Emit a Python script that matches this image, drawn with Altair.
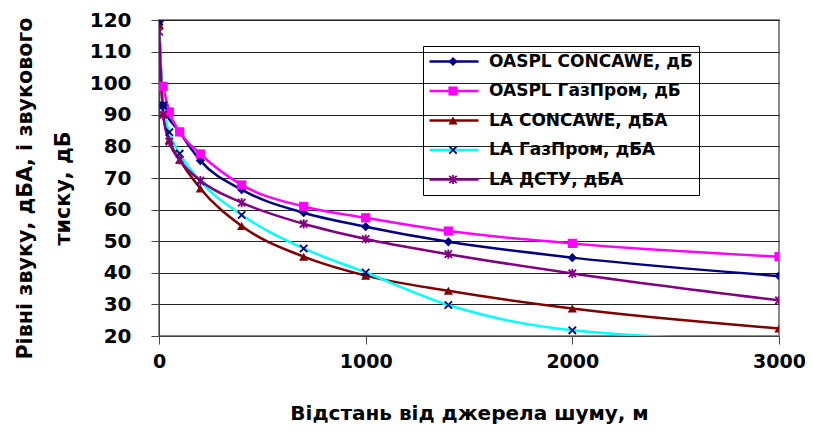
import math
import altair as alt
import pandas as pd

# ---------------- data ----------------
distance = [1, 20, 50, 100, 200, 400, 700, 1000, 1400, 2000, 3000]

series_names = [
    "OASPL CONCAWE, дБ",
    "OASPL ГазПром, дБ",
    "LA CONCAWE, дБА",
    "LA ГазПром, дБА",
    "LA ДСТУ, дБА",
]

oaspl_concawe = [119.5, 93.0, None, 84.5, 75.5, 66.3, 59.0, 54.6, 49.8, 44.8, 39.0]
oaspl_gazprom = [None, 99.0, 90.9, 84.6, 77.6, 67.8, 61.0, 57.4, 53.2, 49.3, 45.1]
la_concawe = [118.5, 90.5, 82.0, 75.8, 66.7, 54.8, 45.1, 39.1, 34.3, 28.7, 22.4]
la_gazprom = [119.5, 93.0, 84.5, 77.7, 69.0, 58.3, 47.7, 40.1, 29.8, 21.8, 18.5]
la_dstu = [116.3, 90.0, 81.5, 75.7, 69.2, 62.2, 55.5, 50.7, 45.9, 39.8, 31.3]

values_by_series = [oaspl_concawe, oaspl_gazprom, la_concawe, la_gazprom, la_dstu]

x_ticks = [0, 1000, 2000, 3000]
y_ticks = [20, 30, 40, 50, 60, 70, 80, 90, 100, 110, 120]

line_colors = ["#000080", "#FF00FF", "#800000", "#00FFFF", "#800080"]
marker_colors = ["#000080", "#FF00FF", "#800000", "#000080", "#800080"]

FONT = "DejaVu Sans"


def x_path(a=0.8, w=0.2, bar=False):
    d = w / math.sqrt(2)
    p1 = [(-a + d, -a - d), (a + d, a - d), (a - d, a + d), (-a - d, -a + d)]
    p2 = [(-a + d, a + d), (a + d, -a + d), (a - d, -a - d), (-a - d, a - d)][::-1]
    polys = [p1, p2]
    if bar:
        polys.append([(-w, -1), (w, -1), (w, 1), (-w, 1)])
    return " ".join(
        "M" + "L".join(f"{x:.3f},{y:.3f}" for x, y in p) + "Z" for p in polys
    )


marker_shapes = ["diamond", "square", "triangle-up", x_path(), x_path(bar=True)]
marker_keys = ["m_" + n for n in series_names]

rows = []
for idx, (name, vals) in enumerate(zip(series_names, values_by_series)):
    for dist, v in zip(distance, vals):
        if v is not None:
            rows.append(
                {"distance": dist, "level": v, "series": name,
                 "series_m": "m_" + name, "k": idx}
            )
df = pd.DataFrame(rows)

x_enc = alt.X(
    "distance:Q",
    scale=alt.Scale(domain=[0, 3000], nice=False),
    axis=alt.Axis(
        values=x_ticks,
        grid=False,
        format="d",
        tickSize=8,
        tickColor="#444444",
        domainColor="#444444",
        labelFont=FONT,
        labelFontSize=19,
        labelFontWeight="bold",
        labelColor="black",
        labelPadding=8,
        labelFlush=False,
        labelOverlap=False,
        title="Відстань від джерела шуму, м",
        titleFont=FONT,
        titleFontSize=20,
        titleFontWeight="bold",
        titleColor="black",
        titleY=77,
        titleBaseline="middle",
    ),
)

y_enc = alt.Y(
    "level:Q",
    scale=alt.Scale(domain=[20, 120], nice=False),
    axis=alt.Axis(
        values=y_ticks,
        grid=True,
        gridColor="#222222",
        gridWidth=1,
        tickSize=8,
        tickColor="#444444",
        domainColor="#444444",
        labelFont=FONT,
        labelFontSize=20,
        labelFontWeight="bold",
        labelColor="black",
        labelPadding=20,
        labelOverlap=False,
        title=["Рівні звуку, дБА, і звукового", "тиску, дБ"],
        titleFont=FONT,
        titleFontSize=20.7,
        titleFontWeight="bold",
        titleColor="black",
        titleAngle=270,
        titleAlign="center",
        titleBaseline="middle",
        titleLineHeight=38,
        titleX=-134,
        titleY=168,
    ),
)

line_legend = alt.Legend(
    title=None,
    orient="none",
    legendX=264,
    legendY=26,
    symbolType="stroke",
    symbolSize=2401,
    symbolStrokeWidth=2.5,
    clipHeight=21,
    rowPadding=8.5,
    padding=5,
    strokeColor="black",
    labelFont=FONT,
    labelFontSize=17,
    labelFontWeight="bold",
    labelColor="black",
    labelOffset=9,
    labelLimit=400,
)

marker_legend = alt.Legend(
    title=None,
    orient="none",
    legendX=284,
    legendY=26,
    symbolSize=85,
    symbolStrokeWidth=0,
    clipHeight=21,
    rowPadding=8.5,
    padding=5,
    labelExpr="''",
)

base = alt.Chart(df).encode(x=x_enc, y=y_enc)

lines = base.mark_line(
    interpolate="monotone", strokeWidth=2.5, clip=True
).encode(
    color=alt.Color(
        "series:N",
        scale=alt.Scale(domain=series_names, range=line_colors),
        legend=line_legend,
    ),
    order="distance:Q",
)

points = base.mark_point(
    filled=True, size=85, opacity=1, clip=True, strokeWidth=0
).encode(
    fill=alt.Fill(
        "series_m:N",
        scale=alt.Scale(domain=marker_keys, range=marker_colors),
        legend=marker_legend,
    ),
    shape=alt.Shape(
        "series_m:N",
        scale=alt.Scale(domain=marker_keys, range=marker_shapes),
        legend=marker_legend,
    ),
)

chart = (
    alt.layer(lines, points)
    .properties(
        width=620,
        height=316,
        autosize=alt.AutoSizeParams(type="none"),
        padding={"left": 151, "top": 12, "right": 26, "bottom": 88},
        background="white",
    )
    .configure_view(stroke="#888888", strokeWidth=2)
)

chart.save("out.html", embed_options={"renderer": "svg", "actions": False})
